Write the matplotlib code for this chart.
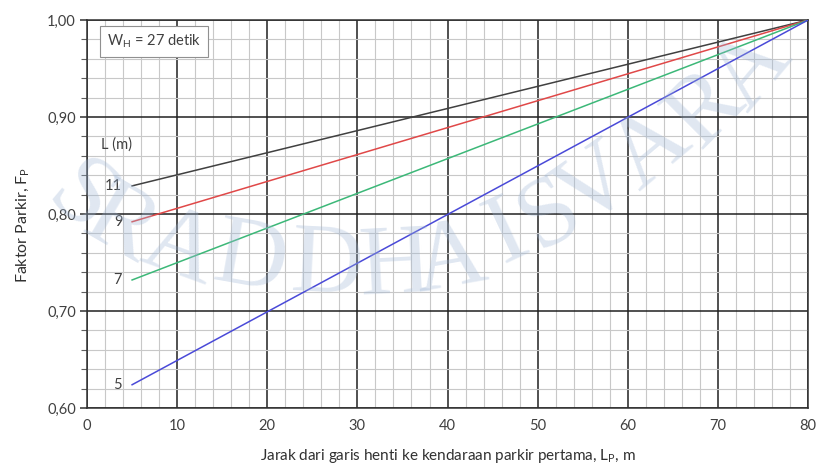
import numpy as np
import matplotlib.pyplot as plt
from matplotlib.ticker import MultipleLocator, FuncFormatter

plt.rcParams['font.family'] = ['Lato', 'DejaVu Sans']

# data (straight lines from L_P = 5 to 80)
lp = [5, 80]
lengths = ['11', '9', '7', '5']
fp_11 = [0.829, 1.00]
fp_9 = [0.792, 1.00]
fp_7 = [0.732, 1.00]
fp_5 = [0.624, 1.00]
series = [fp_11, fp_9, fp_7, fp_5]
colors = ['#404040', '#e04848', '#3cb878', '#4a4ad8']

# faint watermark letters (pixel centre x, y, rotation)
wm_letters = ['S', 'R', 'A', 'D', 'D', 'H', 'A', 'I', 'S', 'V', 'A', 'R', 'A']
wm_x = [80, 120, 180, 250, 326, 395, 450, 507, 550, 597, 652, 706, 752]
wm_y = [200, 226, 250, 262, 268, 268, 262, 234, 215, 188, 150, 110, 70]
wm_rot = [-40, -30, -20, -10, -3, 3, 10, 25, 30, 35, 40, 45, 50]

fig = plt.figure(figsize=(8.18, 4.70), dpi=100)
ax = fig.add_axes([0.1064, 0.1319, 0.8814, 0.8255])

for ys, c, lab in zip(series, colors, lengths):
    ax.plot(lp, ys, color=c, lw=1.1, zorder=3)
    ax.text(lp[0] - 1.1, ys[0], lab, ha='right', va='center', fontsize=10.5, color='#404040')

ax.text(1.5, 0.872, 'L (m)', ha='left', va='center', fontsize=10.5, color='#404040')
ax.text(2.2, 0.978, r'W$_\mathregular{H}$ = 27 detik', ha='left', va='center', fontsize=10.5, color='#404040',
        bbox=dict(boxstyle='square,pad=0.45', fc='white', ec='#909090', lw=0.8), zorder=4)

ax.set_xlim(0, 80)
ax.set_ylim(0.60, 1.00)
ax.xaxis.set_major_locator(MultipleLocator(10))
ax.xaxis.set_minor_locator(MultipleLocator(2))
ax.yaxis.set_major_locator(MultipleLocator(0.1))
ax.yaxis.set_minor_locator(MultipleLocator(0.02))
ax.yaxis.set_major_formatter(FuncFormatter(lambda v, p: f'{v:.2f}'.replace('.', ',')))

ax.grid(which='major', color='#202020', lw=1.1, zorder=1)
ax.grid(which='minor', color='#c8c8c8', lw=0.8, zorder=0)
ax.set_axisbelow(True)
for s in ax.spines.values():
    s.set_color('#303030')
    s.set_linewidth(1.1)

ax.tick_params(which='major', axis='x', length=0, pad=8, labelsize=10.5, labelcolor='#404040')
ax.tick_params(which='major', axis='y', length=5, width=1.1, color='#303030', pad=3, labelsize=10.5, labelcolor='#404040')
ax.tick_params(which='minor', axis='y', length=4, width=0.8, color='#606060')
ax.tick_params(which='minor', axis='x', length=0)

ax.set_xlabel(r'Jarak dari garis henti ke kendaraan parkir pertama, L$_\mathregular{P}$, m',
              fontsize=11, color='#303030', labelpad=10)
ax.set_ylabel(r'Faktor Parkir, F$_\mathregular{P}$', fontsize=11.5, color='#303030')
ax.yaxis.set_label_coords(-0.076, 0.472)

for ch, x, y, r in zip(wm_letters, wm_x, wm_y, wm_rot):
    fig.text(x / 818, 1 - y / 470, ch, family='Liberation Serif', fontsize=72, rotation=r,
             rotation_mode='anchor', ha='center', va='center', color='#9fb6d6', alpha=0.32, zorder=10)

fig.savefig('out.png', dpi=100)
